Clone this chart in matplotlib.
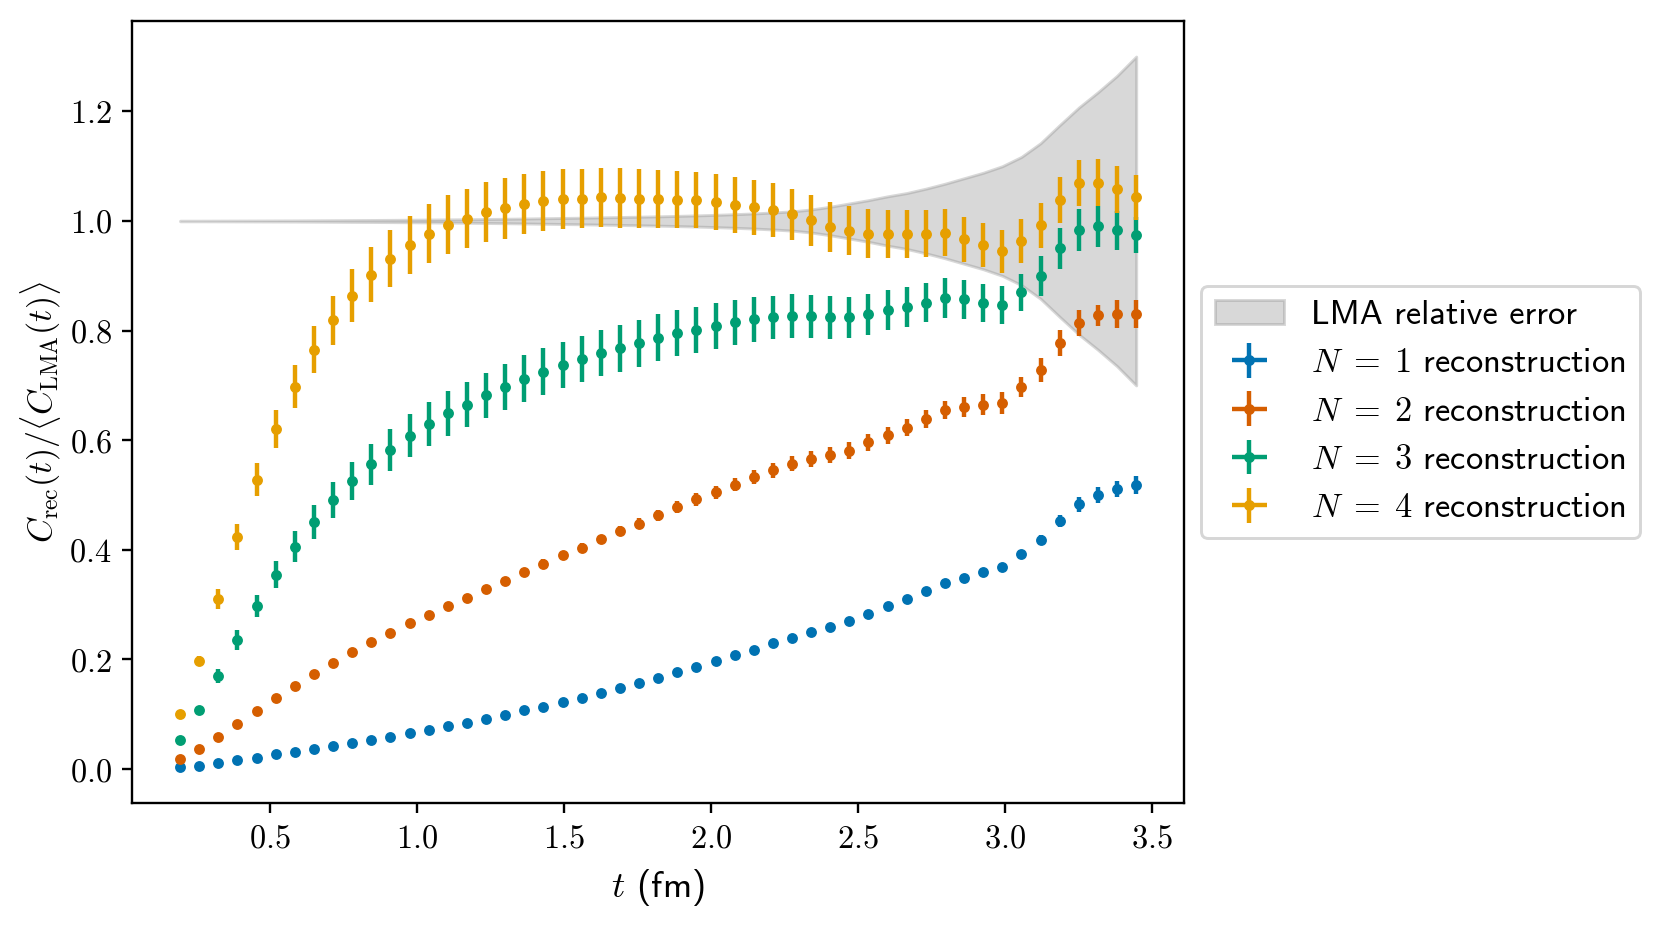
import numpy as np
import matplotlib
matplotlib.use("Agg")
import matplotlib.pyplot as plt
from matplotlib.ticker import FuncFormatter

plt.rcParams['mathtext.fontset'] = 'cm'
plt.rcParams['axes.formatter.use_mathtext'] = True

# Euclidean time (fm)
t = [0.195, 0.26, 0.325, 0.39, 0.455, 0.52, 0.585, 0.65, 0.715, 0.78, 0.845, 0.91,
     0.975, 1.04, 1.105, 1.17, 1.235, 1.3, 1.365, 1.43, 1.495, 1.56, 1.625, 1.69,
     1.755, 1.82, 1.885, 1.95, 2.015, 2.08, 2.145, 2.21, 2.275, 2.34, 2.405, 2.47,
     2.535, 2.6, 2.665, 2.73, 2.795, 2.86, 2.925, 2.99, 3.055, 3.12, 3.185, 3.25,
     3.315, 3.38, 3.445]

# LMA relative error (band half-width around 1)
lma_err = [0.0005, 0.0005, 0.0006, 0.0007, 0.0008, 0.0009, 0.0010, 0.0012, 0.0014, 0.0016,
           0.0018, 0.0020, 0.0023, 0.0026, 0.0029, 0.0032, 0.0036, 0.0040, 0.0045, 0.0050,
           0.0055, 0.0060, 0.0066, 0.0072, 0.0078, 0.0085, 0.0093, 0.0102, 0.0112, 0.0124,
           0.0138, 0.0155, 0.0175,
           0.021, 0.026, 0.032, 0.038, 0.045, 0.051, 0.059, 0.068, 0.078, 0.088, 0.100,
           0.117, 0.142, 0.175, 0.207, 0.235, 0.265, 0.300]

# N = 1 reconstruction
n1_val = [0.003, 0.006, 0.011, 0.016, 0.021, 0.027, 0.031, 0.0365, 0.042, 0.047, 0.053,
          0.059, 0.065, 0.071, 0.078, 0.085, 0.092, 0.099, 0.107, 0.114, 0.122,
          0.130, 0.139, 0.148, 0.157, 0.167, 0.177, 0.187, 0.197, 0.208, 0.218, 0.2295,
          0.239, 0.250, 0.260, 0.271, 0.283, 0.297, 0.310, 0.3245, 0.3395, 0.349, 0.359,
          0.368, 0.392, 0.418, 0.453, 0.483, 0.500, 0.511, 0.518]
n1_err = [0.0005, 0.0005, 0.0006, 0.0007, 0.0008, 0.0009, 0.0010, 0.0011, 0.0012, 0.0013,
          0.0014, 0.0015, 0.0016, 0.0017, 0.0018, 0.0019, 0.0020, 0.0021, 0.0022, 0.0023,
          0.0024, 0.0025, 0.0026, 0.0027, 0.0028, 0.0029, 0.0030, 0.0031, 0.0032, 0.0033,
          0.0034, 0.0035, 0.0036, 0.0037, 0.0038, 0.0040, 0.0045, 0.0050, 0.0055, 0.0060,
          0.0065, 0.0070, 0.0072, 0.0075, 0.008, 0.010, 0.011, 0.0136, 0.015, 0.015, 0.0167]

# N = 2 reconstruction
n2_val = [0.018, 0.036, 0.0585, 0.082, 0.106, 0.129, 0.152, 0.174, 0.194, 0.213, 0.231,
          0.249, 0.266, 0.282, 0.298, 0.313, 0.329, 0.344, 0.360, 0.375, 0.390,
          0.404, 0.419, 0.434, 0.448, 0.463, 0.478, 0.492, 0.505, 0.519, 0.533, 0.545,
          0.557, 0.566, 0.573, 0.581, 0.596, 0.609, 0.623, 0.638, 0.655, 0.660, 0.6645,
          0.668, 0.697, 0.728, 0.777, 0.814, 0.828, 0.830, 0.830]
n2_err = [0.001, 0.001, 0.0015, 0.002, 0.002, 0.0025, 0.003, 0.003, 0.0035, 0.004, 0.004,
          0.0045, 0.005, 0.005, 0.0055, 0.006, 0.006, 0.0065, 0.007, 0.0075, 0.008,
          0.0085, 0.009, 0.0095, 0.010, 0.0105, 0.011, 0.0115, 0.012, 0.0125, 0.013, 0.0135,
          0.014, 0.0145, 0.015, 0.015, 0.0155, 0.016, 0.016, 0.0165, 0.017, 0.018, 0.019,
          0.020, 0.019, 0.0226, 0.0235, 0.024, 0.019, 0.025, 0.026]

# N = 3 reconstruction
n3_val = [0.054, 0.107, 0.170, 0.236, 0.298, 0.355, 0.406, 0.451, 0.491, 0.526, 0.556,
          0.583, 0.608, 0.629, 0.649, 0.665, 0.682, 0.698, 0.712, 0.725, 0.737,
          0.748, 0.759, 0.768, 0.777, 0.787, 0.795, 0.802, 0.809, 0.815, 0.821, 0.824,
          0.826, 0.826, 0.824, 0.824, 0.830, 0.837, 0.843, 0.851, 0.860, 0.857, 0.851,
          0.847, 0.870, 0.900, 0.950, 0.983, 0.990, 0.983, 0.975]
n3_err = [0.003, 0.006, 0.012, 0.018, 0.020, 0.0245, 0.0286, 0.031, 0.0335, 0.035, 0.037,
          0.0384, 0.039, 0.040, 0.0407, 0.0407, 0.0415, 0.042, 0.043, 0.0433, 0.0426,
          0.0426, 0.0426, 0.0426, 0.0426, 0.0426, 0.042, 0.042, 0.042, 0.041, 0.041, 0.040,
          0.040, 0.0396, 0.0388, 0.038, 0.0377, 0.0365, 0.037, 0.036, 0.0365, 0.0354, 0.0347,
          0.0343, 0.034, 0.036, 0.0375, 0.038, 0.0375, 0.036, 0.0325]

# N = 4 reconstruction
n4_val = [0.101, 0.198, 0.311, 0.424, 0.528, 0.620, 0.698, 0.765, 0.819, 0.864, 0.902,
          0.931, 0.956, 0.977, 0.993, 1.004, 1.016, 1.023, 1.031, 1.037, 1.040,
          1.041, 1.043, 1.042, 1.041, 1.040, 1.039, 1.038, 1.034, 1.029, 1.025, 1.020,
          1.012, 1.001, 0.989, 0.982, 0.977, 0.977, 0.976, 0.977, 0.979, 0.967, 0.956,
          0.945, 0.963, 0.992, 1.038, 1.069, 1.070, 1.058, 1.043]
n4_err = [0.005, 0.008, 0.018, 0.024, 0.030, 0.035, 0.040, 0.043, 0.045, 0.048, 0.050,
          0.052, 0.053, 0.054, 0.054, 0.054, 0.055, 0.055, 0.055, 0.055, 0.055,
          0.0545, 0.054, 0.054, 0.054, 0.053, 0.052, 0.0515, 0.051, 0.0505, 0.050, 0.0486,
          0.047, 0.0467, 0.045, 0.0445, 0.0445, 0.0437, 0.0433, 0.0433, 0.043, 0.041, 0.040,
          0.039, 0.040, 0.041, 0.042, 0.042, 0.043, 0.043, 0.041]

series_labels = [r'$N\;=\;1$ reconstruction', r'$N\;=\;2$ reconstruction',
                 r'$N\;=\;3$ reconstruction', r'$N\;=\;4$ reconstruction']
series_colors = ['#0072B2', '#D55E00', '#009E73', '#E69F00']

DPI = 212
fig = plt.figure(figsize=(1660 / DPI, 925 / DPI), dpi=DPI)
ax = fig.add_axes([132.3 / 1660, (925 - 803.3) / 925, (1184 - 132.3) / 1660, (803.3 - 21) / 925])

tt = np.array(t)
le = np.array(lma_err)
ax.fill_between(tt, 1 - le, 1 + le, color='gray', alpha=0.3, label='LMA relative error')

for vals, errs, lab, col in zip([n1_val, n2_val, n3_val, n4_val],
                                [n1_err, n2_err, n3_err, n4_err],
                                series_labels, series_colors):
    ax.errorbar(tt, vals, yerr=errs, xerr=np.zeros(len(tt)), fmt='o', ms=3.7, mew=0,
                color=col, elinewidth=1.5, label=lab)

fmt = FuncFormatter(lambda v, p: r'$%.1f$' % v)
ax.xaxis.set_major_formatter(fmt)
ax.yaxis.set_major_formatter(fmt)
ax.set_xticks([0.5, 1.0, 1.5, 2.0, 2.5, 3.0, 3.5])
ax.set_yticks([0.0, 0.2, 0.4, 0.6, 0.8, 1.0, 1.2])
ax.tick_params(labelsize=11)

ax.set_xlabel(r'$t$ (fm)', fontsize=12.5, family='cmss10')
ax.set_ylabel(r'$C_{\rm rec}(t)/\langle C_{\rm LMA}(t)\rangle$', fontsize=11.5, labelpad=2)

ax.legend(loc='center left', bbox_to_anchor=(1.0, 0.5),
          prop={'family': 'cmss10', 'size': 11.7})

fig.savefig('out.png', dpi=DPI)
